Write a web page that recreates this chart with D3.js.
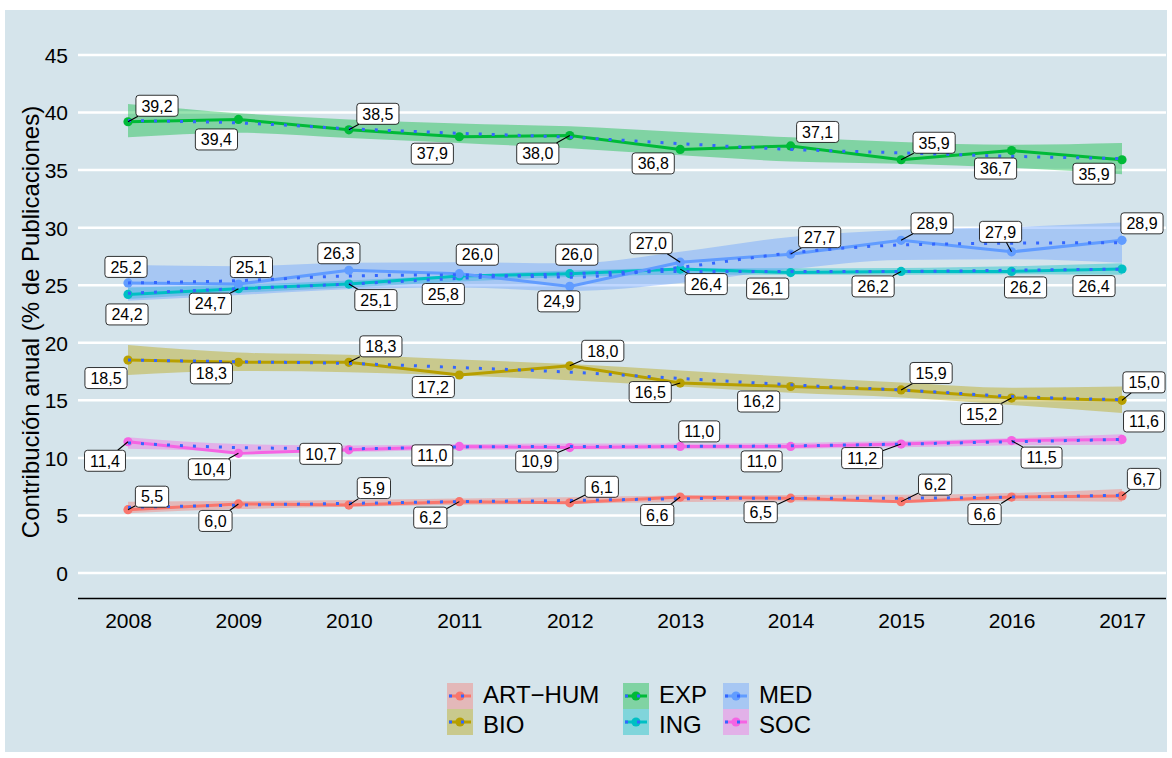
<!DOCTYPE html>
<html><head><meta charset="utf-8">
<script src="https://cdn.jsdelivr.net/npm/d3@7"></script>
<style>body{margin:0;background:#fff} svg{display:block;font-family:"Liberation Sans",Arial,sans-serif}</style>
</head><body><svg id="chart" width="1172" height="758"></svg>
<script>
// ---------- data ----------
const years = [2008, 2009, 2010, 2011, 2012, 2013, 2014, 2015, 2016, 2017];
const categories = ["ART−HUM", "BIO", "EXP", "ING", "MED", "SOC"];
const yTicks = [0, 5, 10, 15, 20, 25, 30, 35, 40, 45];

const artHum = [5.5, 6.0, 5.9, 6.2, 6.1, 6.6, 6.5, 6.2, 6.6, 6.7];
const bio    = [18.5, 18.3, 18.3, 17.2, 18.0, 16.5, 16.2, 15.9, 15.2, 15.0];
const exp    = [39.2, 39.4, 38.5, 37.9, 38.0, 36.8, 37.1, 35.9, 36.7, 35.9];
const ing    = [24.2, 24.7, 25.1, 25.8, 26.0, 26.4, 26.1, 26.2, 26.2, 26.4];
const med    = [25.2, 25.1, 26.3, 26.0, 24.9, 27.0, 27.7, 28.9, 27.9, 28.9];
const soc    = [11.4, 10.4, 10.7, 11.0, 10.9, 11.0, 11.0, 11.2, 11.5, 11.6];

// smoothed trend and half-width of its confidence band
const artHumFit = [5.7, 5.9, 6.05, 6.2, 6.3, 6.45, 6.5, 6.5, 6.6, 6.75];
const artHumSe  = [0.5, 0.35, 0.3, 0.28, 0.28, 0.28, 0.28, 0.3, 0.35, 0.55];
const bioFit = [18.5, 18.35, 18.2, 17.85, 17.45, 16.9, 16.35, 15.9, 15.35, 15.05];
const bioSe  = [1.3, 0.8, 0.75, 0.7, 0.7, 0.7, 0.7, 0.65, 0.75, 1.15];
const expFit = [39.3, 39.1, 38.6, 38.2, 37.85, 37.3, 36.8, 36.5, 36.2, 36.0];
const expSe  = [1.45, 0.85, 0.8, 0.85, 0.95, 1.0, 1.05, 0.95, 1.0, 1.35];
const ingFit = [24.3, 24.7, 25.1, 25.6, 26.0, 26.2, 26.2, 26.2, 26.3, 26.4];
const ingSe  = [0.5, 0.35, 0.3, 0.28, 0.28, 0.28, 0.28, 0.3, 0.35, 0.5];
const medFit = [25.2, 25.4, 25.8, 25.9, 25.7, 26.55, 27.8, 28.5, 28.65, 28.7];
const medSe  = [1.55, 1.25, 1.15, 1.1, 1.2, 1.35, 1.4, 1.3, 1.4, 1.75];
const socFit = [11.3, 10.9, 10.8, 10.95, 11.0, 11.0, 11.05, 11.2, 11.4, 11.6];
const socSe  = [0.5, 0.3, 0.27, 0.25, 0.25, 0.25, 0.25, 0.27, 0.3, 0.45];

// ---------- label layout (pixel offsets of each label from its point; segment flags) ----------
const labelLayout = {
  "ART−HUM": {dx: [24, -23, 25, -29, 32, -23, -30, 34, -27, 22], dy: [-13, 17, -17, 16, -16, 18, 14, -17, 17, -17], seg: "1111111111"},
  "BIO":     {dx: [-22, -27, 32, -26, 33, -30, -32, 30, -30, 22], dy: [18, 11, -16, 12, -15, 9, 15, -17, 16, -18], seg: "0010110111"},
  "EXP":     {dx: [29, -22, 29, -27, -32, -27, 27, 33, -16, -28], dy: [-16, 20, -16, 17, 18, 14, -14, -17, 18, 14], seg: "1010100100"},
  "ING":     {dx: [-1, -28, 27, -16, 7, 26, -23, -28, 14, -28], dy: [20, 15, 16, 18, -19, 15, 16, 15, 16, 17], seg: "0110010100"},
  "MED":     {dx: [-2, 13, -10, 18, -11, -29, 29, 31, -11, 20], dy: [-16, -17, -17, -19, 15, -19, -17, -17, -20, -17], seg: "0000011110"},
  "SOC":     {dx: [-23, -29, -28, -27, -33, 19, -29, -39, 30, 22], dy: [19, 16, 4, 9, 14, -15, 15, 14, 17, -18], seg: "1100100110"}
};

const seriesValues = [artHum, bio, exp, ing, med, soc];
const seriesFits = [artHumFit, bioFit, expFit, ingFit, medFit, socFit];
const seriesSes = [artHumSe, bioSe, expSe, ingSe, medSe, socSe];
const palette = ["#F8766D", "#B79F00", "#00BA38", "#00BFC4", "#619CFF", "#F564E3"];

const series = categories.map((c, i) => ({
  name: c, color: palette[i],
  pts: years.map((y, j) => ({year: y, v: seriesValues[i][j], fit: seriesFits[i][j], se: seriesSes[i][j]}))
}));

// ---------- drawing ----------
const svg = d3.select("#chart");
const W = 1172, H = 758;
const bg = "#d5e4eb";
svg.append("rect").attr("x", 5).attr("y", 10).attr("width", W - 10).attr("height", H - 16).attr("fill", bg);

const x = d3.scaleLinear().domain([2008, 2017]).range([128, 1122]);
const y = d3.scaleLinear().domain([0, 45]).range([573, 55]);
const panelL = 78, panelR = 1166;

// gridlines
svg.append("g").selectAll("line").data(yTicks).join("line")
  .attr("x1", panelL).attr("x2", panelR)
  .attr("y1", d => y(d)).attr("y2", d => y(d))
  .attr("stroke", "#fff").attr("stroke-width", 2.5);

// y axis labels
const yAxis = d3.axisLeft(y).tickValues(yTicks).tickSize(0).tickPadding(0).tickFormat(d3.format("d"));
const gy = svg.append("g").attr("transform", "translate(68,0)").call(yAxis);
gy.select(".domain").remove();
gy.selectAll("text").attr("font-size", 21).attr("fill", "#000").attr("font-family", "Liberation Sans, Arial, sans-serif").attr("dy", "0.35em");

// x axis
const xAxis = d3.axisBottom(x).tickValues(years).tickSize(0).tickPadding(0).tickFormat(d3.format("d"));
const gx = svg.append("g").attr("transform", "translate(0,599)").call(xAxis);
gx.select(".domain").remove();
gx.selectAll("text").attr("font-size", 21).attr("fill", "#000").attr("font-family", "Liberation Sans, Arial, sans-serif").attr("dy", "0").attr("y", 29);
svg.append("line").attr("x1", panelL).attr("x2", panelR).attr("y1", 598.5).attr("y2", 598.5)
  .attr("stroke", "#000").attr("stroke-width", 1.4);

// y title
svg.append("text").attr("transform", "translate(39,322) rotate(-90)")
  .attr("text-anchor", "middle").attr("font-size", 24).attr("fill", "#000")
  .text("Contribución anual (% de Publicaciones)");

const area = d3.area().x(d => x(d.year)).y0(d => y(d.fit - d.se)).y1(d => y(d.fit + d.se)).curve(d3.curveMonotoneX);
const line = d3.line().x(d => x(d.year)).y(d => y(d.v));
const fitLine = d3.line().x(d => x(d.year)).y(d => y(d.fit)).curve(d3.curveMonotoneX);

// ribbons
svg.append("g").selectAll("path").data(series).join("path")
  .attr("d", s => area(s.pts)).attr("fill", s => s.color).attr("fill-opacity", 0.4);
// lines
svg.append("g").selectAll("path").data(series).join("path")
  .attr("d", s => line(s.pts)).attr("fill", "none").attr("stroke", s => s.color).attr("stroke-width", 3);
// points
series.forEach(s => {
  svg.append("g").selectAll("circle").data(s.pts).join("circle")
    .attr("cx", d => x(d.year)).attr("cy", d => y(d.v)).attr("r", 4.6).attr("fill", s.color);
});
// trend lines
svg.append("g").selectAll("path").data(series).join("path")
  .attr("d", s => fitLine(s.pts)).attr("fill", "none").attr("stroke", "#3366FF")
  .attr("stroke-width", 3).attr("stroke-dasharray", "3,10");

// labels
const fmt = v => v.toFixed(1).replace(".", ",");
const labG = svg.append("g");
const segG = labG.append("g");
const boxG = labG.append("g");
series.forEach(s => {
  const L = labelLayout[s.name];
  s.pts.forEach((d, j) => {
    const px = x(d.year), py = y(d.v);
    const cx = px + L.dx[j], cy = py + L.dy[j];
    const g = boxG.append("g");
    const t = g.append("text").attr("x", cx).attr("y", cy).attr("dy", "0.36em")
      .attr("text-anchor", "middle").attr("font-size", 16).attr("fill", "#000").text(fmt(d.v));
    const tw = t.node().getComputedTextLength();
    const bw = tw + 11, bh = 21;
    g.insert("rect", "text").attr("x", cx - bw / 2).attr("y", cy - bh / 2).attr("width", bw).attr("height", bh)
      .attr("rx", 3).attr("fill", "#fff").attr("stroke", "#000").attr("stroke-width", 0.8);
    if (L.seg[j] === "1") {
      const vx = px - cx, vy = py - cy;
      const t1 = Math.min(Math.abs((bw / 2) / (vx || 1e-9)), Math.abs((bh / 2) / (vy || 1e-9)));
      if (t1 < 1) {
        segG.append("line").attr("x1", px).attr("y1", py)
          .attr("x2", cx + vx * t1).attr("y2", cy + vy * t1)
          .attr("stroke", "#000").attr("stroke-width", 1.1);
      }
    }
  });
});

// legend (3 columns, 2 rows, column-major)
const legCols = [447, 623, 723];
const legRows = [696, 722];
const legText = [694, 724];
const key = 26;
const legG = svg.append("g");
series.forEach((s, i) => {
  const col = Math.floor(i / 2), row = i % 2;
  const kx = legCols[col], ky = legRows[row];
  const g = legG.append("g");
  g.append("rect").attr("x", kx).attr("y", ky - key / 2).attr("width", key).attr("height", key)
    .attr("fill", s.color).attr("fill-opacity", 0.4);
  g.append("line").attr("x1", kx + 2).attr("x2", kx + key - 2).attr("y1", ky).attr("y2", ky)
    .attr("stroke", s.color).attr("stroke-width", 3);
  g.append("circle").attr("cx", kx + key / 2).attr("cy", ky).attr("r", 4.6).attr("fill", s.color);
  g.append("line").attr("x1", kx + 2).attr("x2", kx + key - 2).attr("y1", ky).attr("y2", ky)
    .attr("stroke", "#3366FF").attr("stroke-width", 3).attr("stroke-dasharray", "3,9");
  g.append("text").attr("x", kx + key + 10).attr("y", legText[row]).attr("dy", "0.36em")
    .attr("font-size", 24).attr("fill", "#000").text(s.name);
});
</script></body></html>
